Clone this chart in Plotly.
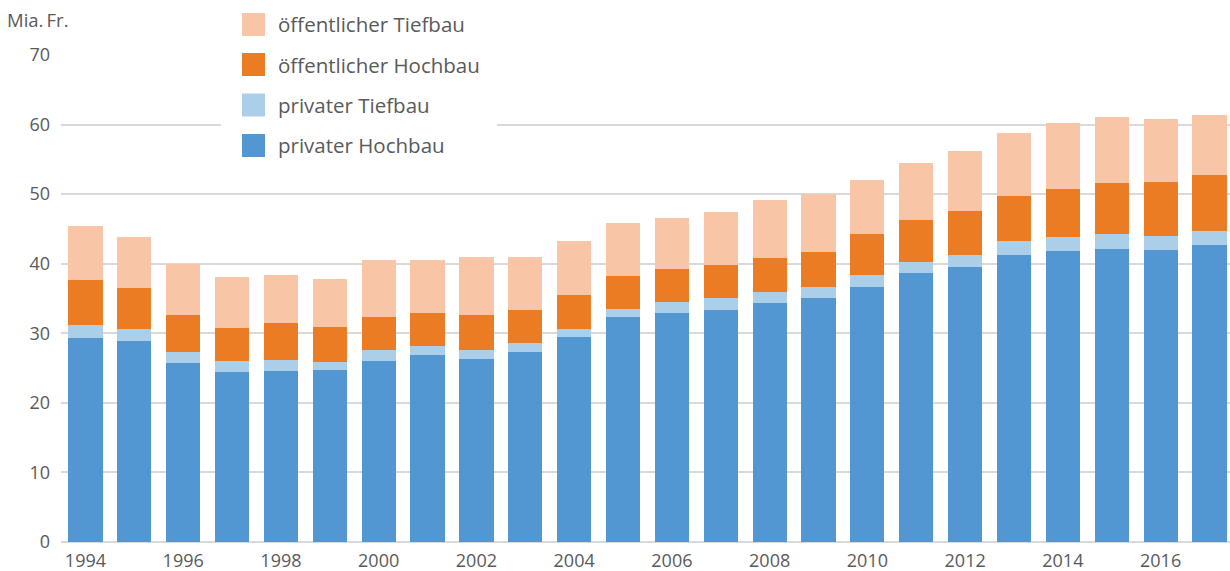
import plotly.graph_objects as go

years = list(range(1994, 2018))
privater_hochbau = [29.35, 28.9, 25.8, 24.5, 24.65, 24.75, 26.05, 26.9, 26.35, 27.35, 29.5, 32.35,
                    32.9, 33.4, 34.4, 35.1, 36.7, 38.7, 39.6, 41.3, 41.9, 42.15, 42.0, 42.7]
privater_tiefbau = [1.85, 1.7, 1.55, 1.55, 1.55, 1.15, 1.55, 1.3, 1.25, 1.3, 1.15, 1.15,
                    1.6, 1.7, 1.55, 1.6, 1.7, 1.6, 1.7, 1.9, 2.0, 2.15, 2.05, 2.05]
oeff_hochbau = [6.5, 5.9, 5.35, 4.75, 5.3, 5.0, 4.7, 4.75, 5.1, 4.75, 4.9, 4.75,
                4.8, 4.75, 4.9, 5.0, 5.8, 6.0, 6.3, 6.6, 6.9, 7.3, 7.75, 7.95]
oeff_tiefbau = [7.7, 7.4, 7.3, 7.3, 6.9, 6.9, 8.3, 7.65, 8.3, 7.6, 7.75, 7.65,
                7.3, 7.65, 8.35, 8.35, 7.9, 8.2, 8.6, 9.0, 9.45, 9.5, 9.05, 8.7]

series_names = ["privater Hochbau", "privater Tiefbau", "öffentlicher Hochbau", "öffentlicher Tiefbau"]
series_values = [privater_hochbau, privater_tiefbau, oeff_hochbau, oeff_tiefbau]
series_colors = ["#5297D1", "#ABCFE8", "#EB7C24", "#F8C6A7"]

y_tickvals = [0, 10, 20, 30, 40, 50, 60, 70]
x_tickvals = list(range(1994, 2017, 2))

FONT = "Open Sans, Noto Sans, sans-serif"
TXT = "#5a5a5a"

W, H = 1230, 571
ML, MR, MT, MB = 61, 0, 55, 29
PW = W - ML - MR
PH = H - MT - MB

def px_x(px):
    return (px - ML) / PW

def px_y(py):
    return (H - MB - py) / PH

fig = go.Figure()
for name, vals, col in zip(series_names, series_values, series_colors):
    fig.add_trace(go.Bar(x=years, y=vals, name=name, marker=dict(color=col, line=dict(width=0)),
                         showlegend=False))

shapes = []
annotations = []
# legend background
shapes.append(dict(type="rect", xref="paper", yref="paper",
                   x0=px_x(221), x1=px_x(497), y0=px_y(175), y1=px_y(0),
                   fillcolor="white", line=dict(width=0), layer="above"))
legend_order = [3, 2, 1, 0]
row_centers = [24.5, 64.5, 105, 145.5]
for rc, idx in zip(row_centers, legend_order):
    shapes.append(dict(type="rect", xref="paper", yref="paper",
                       x0=px_x(242), x1=px_x(265), y0=px_y(rc + 11.5), y1=px_y(rc - 11.5),
                       fillcolor=series_colors[idx], line=dict(width=0), layer="above"))
    annotations.append(dict(xref="paper", yref="paper", x=px_x(276), y=px_y(rc),
                            xanchor="left", yanchor="middle", showarrow=False,
                            text=series_names[idx], font=dict(family=FONT, size=20.5, color=TXT)))

annotations.append(dict(xref="paper", yref="paper", x=px_x(5), y=px_y(20),
                        xanchor="left", yanchor="middle", showarrow=False,
                        text="Mia.\u2009Fr.", font=dict(family=FONT, size=18.5, color=TXT)))

fig.update_layout(
    barmode="stack",
    bargap=0.30,
    width=W, height=H,
    margin=dict(l=ML, r=MR, t=MT, b=MB, pad=0, autoexpand=False),
    plot_bgcolor="white", paper_bgcolor="white",
    font=dict(family=FONT, size=18, color=TXT),
    shapes=shapes,
    annotations=annotations,
    hovermode=False,
    xaxis=dict(range=[1993.5, 2017.42], tickvals=x_tickvals, ticktext=[str(v) for v in x_tickvals],
               showgrid=False, zeroline=False, showline=False, ticks="", automargin=False,
               ticklabelstandoff=6, tickfont=dict(family=FONT, size=18, color=TXT)),
    yaxis=dict(range=[0, 70], tickvals=y_tickvals, showgrid=True, gridcolor="#d9d9d9", gridwidth=1.5,
               zeroline=True, zerolinecolor="#d9d9d9", zerolinewidth=1.5, showline=False, ticks="",
               automargin=False,
               ticklabelstandoff=10, tickfont=dict(family=FONT, size=18, color=TXT)),
)

fig.write_html("out.html", config={"displayModeBar": False},
               post_script="document.body.style.margin='0';document.body.style.overflow='hidden';")
